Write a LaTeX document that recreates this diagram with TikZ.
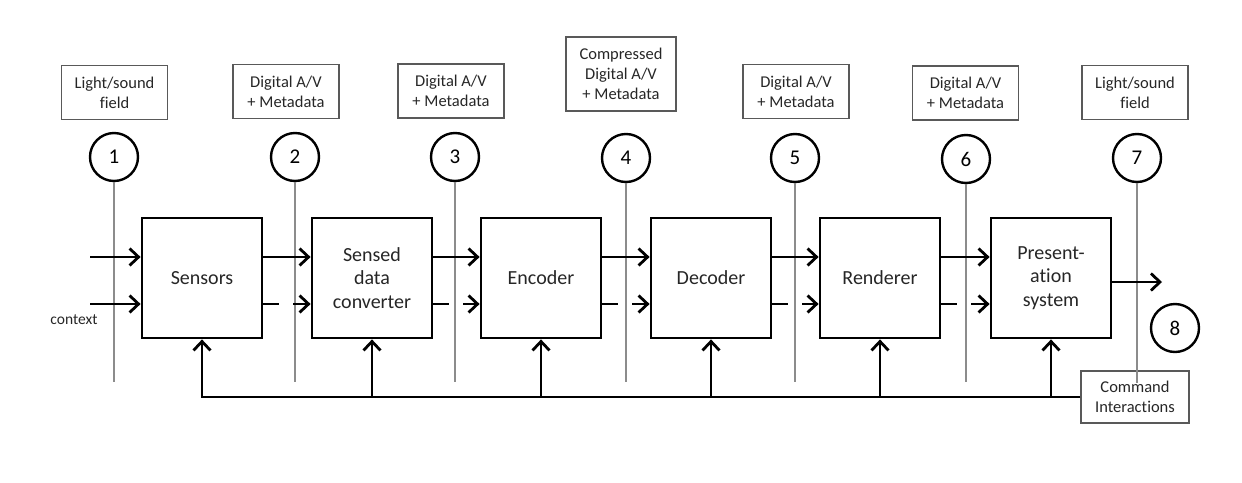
\documentclass[tikz,border=0pt]{standalone}
\usepackage{fontspec}
\setmainfont{Carlito}[Ligatures={NoCommon,NoRequired,NoContextual}]
\usetikzlibrary{arrows.meta}

\begin{document}
\begin{tikzpicture}[
          x=1pt, y=-1pt,
          blk/.style={draw,line width=2.8pt,minimum width=120pt,minimum height=120pt,
            align=center,text=black!85,font=\fontsize{20}{23.5}\selectfont},
          lbl/.style={draw=black!65,line width=1.2pt,minimum width=106pt,minimum height=54pt,
            align=center,text=black!85,font=\fontsize{16.5}{20}\selectfont},
          pt/.style={circle,draw,line width=2.4pt,minimum size=48pt,inner sep=0pt,
            font=\fontsize{21}{24}\selectfont},
          tap/.style={draw=black!45,line width=1.3pt},
          flow/.style={line width=2.8pt,-{Straight Barb[length=9pt,width=17pt]}},
          side/.style={flow,dash pattern=on 16pt off 14pt}
        ]
        \useasboundingbox (0,0) rectangle (1242,482);
        % processing chain
        \node[blk] (sens) at (202,278) {Sensors};
        \node[blk] (conv) at (372,278) {Sensed\\data\\converter};
        \node[blk] (enc) at (541,278) {Encoder};
        \node[blk] (dec) at (711,278) {Decoder};
        \node[blk] (rend) at (880,278) {Renderer};
        \node[blk] (pres) at (1051,278) {Present-\\ation\\system};
        % interface points
        \node[pt] (p1) at (114,157) {1};
        \node[pt] (p2) at (295,157) {2};
        \node[pt] (p3) at (455,157) {3};
        \node[pt] (p4) at (626,158) {4};
        \node[pt] (p5) at (795,158) {5};
        \node[pt] (p6) at (966,159) {6};
        \node[pt] (p7) at (1137,158) {7};
        \node[pt] (p8) at (1175,328) {8};
        % labels
        \node[lbl] (l1) at (114.5,92.5) {Light/sound\\field};
        \node[lbl] (l2) at (286,91.5) {Digital A/V\\+ Metadata};
        \node[lbl] (l3) at (451,91) {Digital A/V\\+ Metadata};
        \node[lbl,minimum width=110pt,minimum height=74pt] (l4) at (621,74) {Compressed\\Digital A/V\\+ Metadata};
        \node[lbl] (l5) at (796,91.5) {Digital A/V\\+ Metadata};
        \node[lbl] (l6) at (965.5,93) {Digital A/V\\+ Metadata};
        \node[lbl] (l7) at (1135,92.5) {Light/sound\\field};
        \node[lbl,minimum width=108pt,minimum height=52pt] (cmd) at (1135,397) {Command\\Interactions};
        \node[text=black!85,font=\fontsize{15.5}{18}\selectfont] (ctx) at (74,320) {context};
        % tap lines
        \coordinate (t1) at (114,382);
        \coordinate (t2) at (295,382);
        \coordinate (t3) at (455,382);
        \coordinate (t4) at (626,382);
        \coordinate (t5) at (795,382);
        \coordinate (t6) at (966,382);
        \coordinate (t7) at (1137,383);
        \draw[tap] (p1) -- (t1);
        \draw[tap] (p2) -- (t2);
        \draw[tap] (p3) -- (t3);
        \draw[tap] (p4) -- (t4);
        \draw[tap] (p5) -- (t5);
        \draw[tap] (p6) -- (t6);
        \draw[tap] (p7) -- (t7);
        % inputs and output
        \coordinate (in1) at (90,257);
        \coordinate (in2) at (90,304);
        \coordinate (out) at (1162,282);
        \draw[flow] (in1) -- (sens.west |- in1);
        \draw[flow] (in2) -- (sens.west |- in2);
        \draw[flow] ([yshift=-4pt]pres.east) -- (out);
        % chain arrows
        \draw[flow] ([yshift=21pt]sens.east) -- ([yshift=21pt]conv.west);
        \draw[side] ([yshift=-26pt]sens.east) -- ([yshift=-26pt]conv.west);
        \draw[flow] ([yshift=21pt]conv.east) -- ([yshift=21pt]enc.west);
        \draw[side] ([yshift=-26pt]conv.east) -- ([yshift=-26pt]enc.west);
        \draw[flow] ([yshift=21pt]enc.east) -- ([yshift=21pt]dec.west);
        \draw[side] ([yshift=-26pt]enc.east) -- ([yshift=-26pt]dec.west);
        \draw[flow] ([yshift=21pt]dec.east) -- ([yshift=21pt]rend.west);
        \draw[side] ([yshift=-26pt]dec.east) -- ([yshift=-26pt]rend.west);
        \draw[flow] ([yshift=21pt]rend.east) -- ([yshift=21pt]pres.west);
        \draw[side] ([yshift=-26pt]rend.east) -- ([yshift=-26pt]pres.west);
        % feedback
        \draw[flow] (cmd.west) -| (sens.south);
        \draw[flow] (conv.south |- cmd.west) -- (conv.south);
        \draw[flow] (enc.south |- cmd.west) -- (enc.south);
        \draw[flow] (dec.south |- cmd.west) -- (dec.south);
        \draw[flow] (rend.south |- cmd.west) -- (rend.south);
        \draw[flow] (pres.south |- cmd.west) -- (pres.south);
      \end{tikzpicture}
\end{document}
